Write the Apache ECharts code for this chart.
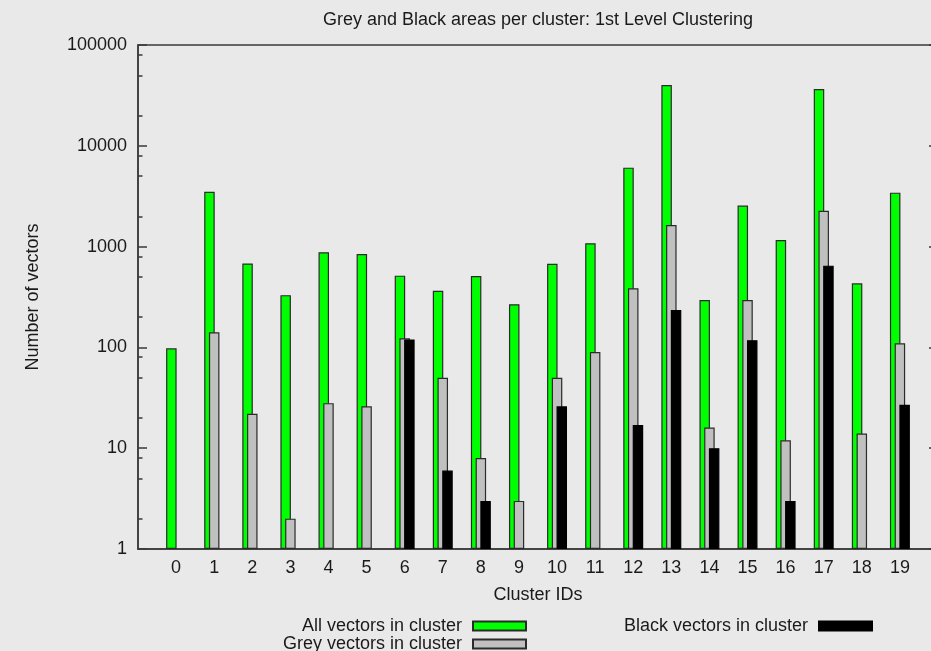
<!DOCTYPE html>
<html>
<head>
<meta charset="utf-8">
<script src="https://cdn.jsdelivr.net/npm/echarts@6/dist/echarts.min.js"></script>
<style>
  html, body { margin: 0; padding: 0; background: #e9e9e9; }
  #chart { width: 931px; height: 651px; }
</style>
</head>
<body>
<div id="chart"></div>
<script>
// Cluster ids on the x axis
const clusterIds = [0, 1, 2, 3, 4, 5, 6, 7, 8, 9, 10, 11, 12, 13, 14, 15, 16, 17, 18, 19];

// Number of vectors per cluster (null = nothing of that kind in the cluster)
const allVectors   = [98, 3500, 680, 330, 880, 845, 515, 365, 510, 268, 675, 1080, 6070, 40100, 295, 2550, 1160, 36600, 432, 3430];
const greyVectors  = [null, 141, 22, 2, 28, 26, 123, 50, 8, 3, 50, 90, 386, 1637, 16, 295, 12, 2271, 14, 110];
const blackVectors = [null, null, null, null, null, null, 120, 6, 3, null, 26, null, 17, 235, 10, 118, 3, 647, null, 27];

// Log-axis tick values
const majorTicks = [1, 10, 100, 1000, 10000, 100000];
const minorTicks = [2, 5, 8, 20, 50, 80, 200, 500, 800, 2000, 5000, 8000, 20000, 50000, 80000];

const FONT = '"Liberation Sans", Arial, sans-serif';
const INK = '#1a1a1a';
const FRAME = '#3a3a3a';

function toPoints(values) {
  return clusterIds
    .map((id, i) => [id, values[i]])
    .filter(p => p[1] !== null && p[1] !== undefined);
}

const chart = echarts.init(document.getElementById('chart'), null, { renderer: 'canvas' });

const barCommon = {
  type: 'bar',
  barWidth: 10.5,
  barGap: '-55%',
  xAxisIndex: 0,
  yAxisIndex: 0,
  animation: false
};

const legendCommon = {
  orient: 'horizontal',
  align: 'right',
  itemWidth: 53,
  itemHeight: 9,
  padding: 0,
  icon: 'rect',
  selectedMode: false,
  textStyle: { fontFamily: FONT, fontSize: 18, color: INK, padding: [0, 6, 0, 0] }
};

const logAxisBase = {
  type: 'log', logBase: 10, min: 1, max: 100000, offset: 0,
  splitLine: { show: false }
};

chart.setOption({
  backgroundColor: '#e9e9e9',
  animation: false,
  textStyle: { fontFamily: FONT },
  grid: {
    left: 138, right: -7, top: 45, bottom: 102,
    outerBoundsMode: 'none',
    containLabel: false,
    show: true, borderColor: FRAME, borderWidth: 1.5,
    backgroundColor: 'transparent'
  },
  legend: [
    Object.assign({}, legendCommon, { data: ['All vectors in cluster'], right: 404, top: 617 }),
    Object.assign({}, legendCommon, { data: ['Grey vectors in cluster'], right: 404, top: 635 }),
    Object.assign({}, legendCommon, { data: ['Black vectors in cluster'], right: 58, top: 617 })
  ],
  xAxis: [
    {
      type: 'value', position: 'bottom',
      min: -1, max: 20, interval: 1,
      name: 'Cluster IDs', nameLocation: 'middle', nameGap: 37,
      nameTextStyle: { fontFamily: FONT, fontSize: 18, color: INK },
      axisLine: { show: true, onZero: false, lineStyle: { color: FRAME, width: 1.5 } },
      axisTick: { show: false },
      splitLine: { show: false },
      axisLabel: {
        fontFamily: FONT, fontSize: 18, color: INK, margin: 10,
        formatter: v => (v < 0 || v > 19) ? '' : String(v)
      }
    },
    {
      type: 'value', position: 'top',
      min: -1, max: 20,
      name: 'Grey and Black areas per cluster: 1st Level Clustering',
      nameLocation: 'middle', nameGap: 16,
      nameTextStyle: { fontFamily: FONT, fontSize: 18, color: INK },
      axisLine: { show: false, onZero: false }, axisTick: { show: false },
      axisLabel: { show: false }, splitLine: { show: false }
    }
  ],
  yAxis: [
    Object.assign({}, logAxisBase, {
      position: 'left',
      name: 'Number of vectors', nameLocation: 'middle', nameGap: 96, nameRotate: 90,
      nameTextStyle: { fontFamily: FONT, fontSize: 18, color: INK },
      axisLine: { show: true, onZero: false, lineStyle: { color: FRAME, width: 1.5 } },
      axisTick: { show: true, inside: true, length: 9, customValues: majorTicks, lineStyle: { color: FRAME, width: 1.5 } },
      axisLabel: {
        fontFamily: FONT, fontSize: 18, color: INK, margin: 11,
        customValues: majorTicks,
        formatter: v => String(Math.round(v))
      }
    }),
    Object.assign({}, logAxisBase, {
      position: 'left',
      axisLine: { show: false, onZero: false },
      axisTick: { show: true, inside: true, length: 4.5, customValues: minorTicks, lineStyle: { color: FRAME, width: 1.5 } },
      axisLabel: { show: false }
    }),
    Object.assign({}, logAxisBase, {
      position: 'right',
      axisLine: { show: false, onZero: false },
      axisTick: { show: true, inside: true, length: 9, customValues: majorTicks, lineStyle: { color: FRAME, width: 1.5 } },
      axisLabel: { show: false }
    })
  ],
  series: [
    Object.assign({}, barCommon, {
      name: 'All vectors in cluster',
      data: toPoints(allVectors),
      itemStyle: { color: '#00ff00', borderColor: '#2b2b2b', borderWidth: 1.2 }
    }),
    Object.assign({}, barCommon, {
      name: 'Grey vectors in cluster',
      data: toPoints(greyVectors),
      itemStyle: { color: '#c0c0c0', borderColor: '#2b2b2b', borderWidth: 1.2 }
    }),
    Object.assign({}, barCommon, {
      name: 'Black vectors in cluster',
      data: toPoints(blackVectors),
      itemStyle: { color: '#000000', borderColor: '#000000', borderWidth: 1.2 }
    })
  ]
});
</script>
</body>
</html>
